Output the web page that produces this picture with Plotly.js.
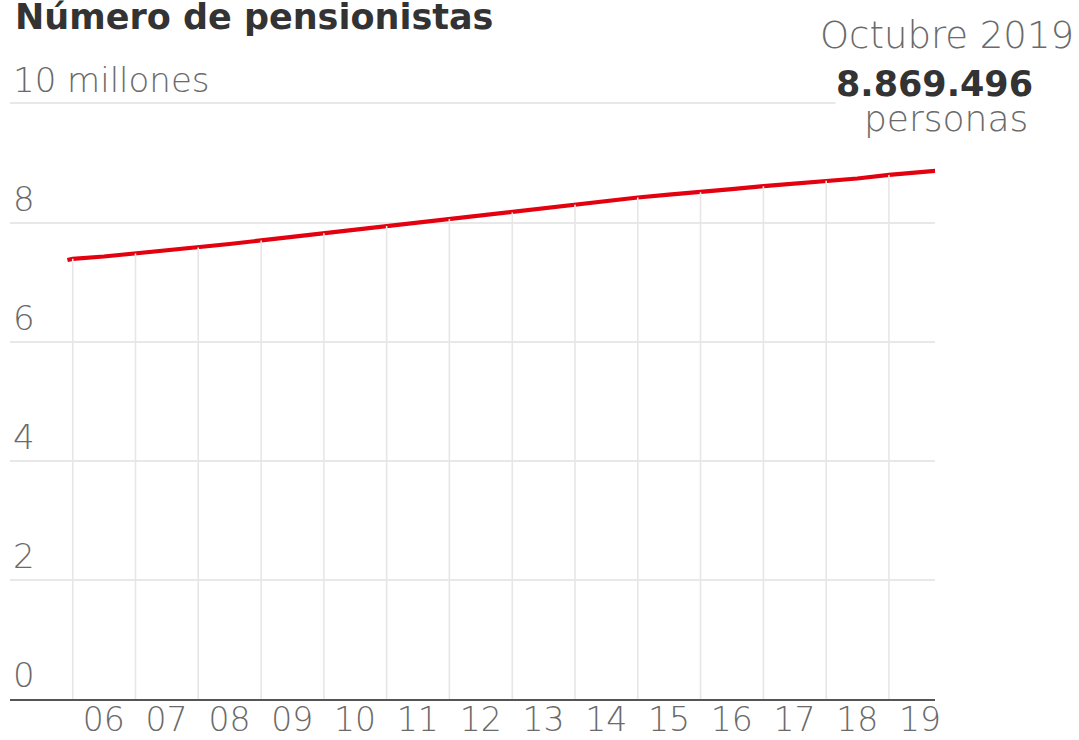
<!DOCTYPE html>
<html>
<head>
<meta charset="utf-8">
<script src="https://cdn.plot.ly/plotly-3.0.1.min.js"></script>
<style>html,body{margin:0;padding:0;background:#fff}#chart{width:1079px;height:740px}</style>
</head>
<body>
<div id="chart"></div>
<script>
// Número de pensionistas (millones)
const dates = ['2005-12-01','2006-01-01','2006-07-01','2007-01-01','2007-07-01','2008-01-01','2008-07-01',
  '2009-01-01','2009-07-01','2010-01-01','2010-07-01','2011-01-01','2011-07-01','2012-01-01','2012-07-01',
  '2013-01-01','2013-07-01','2014-01-01','2014-07-01','2015-01-01','2015-07-01','2016-01-01','2016-07-01',
  '2017-01-01','2017-07-01','2018-01-01','2018-07-01','2019-01-01','2019-07-01','2019-10-01'];
const pensionistas = [7.37,7.39,7.43,7.48,7.53,7.58,7.64,
  7.70,7.76,7.82,7.88,7.94,8.00,8.06,8.11,
  8.17,8.24,8.30,8.36,8.42,8.47,8.51,8.56,
  8.61,8.65,8.70,8.74,8.80,8.84,8.869496];
const yearTicks = ['2006-07-01','2007-07-01','2008-07-01','2009-07-01','2010-07-01','2011-07-01','2012-07-01',
  '2013-07-01','2014-07-01','2015-07-01','2016-07-01','2017-07-01','2018-07-01','2019-07-01'];
const yearLabels = ['06','07','08','09','10','11','12','13','14','15','16','17','18','19'];
const yTicks = [0,2,4,6,8,10];
const yLabels = ['0','2','4','6','8','10 millones'];
const lastDate = 'Octubre 2019';
const lastValue = '8.869.496';
const lastUnit = 'personas';

// vertical drop lines at each January, from the axis up to the series
const dropX = [], dropY = [];
dates.forEach((d, i) => {
  if (d.slice(5, 7) === '01') { dropX.push(d, d, null); dropY.push(0, pensionistas[i], null); }
});

const FONT = '"DejaVu Sans", Verdana, sans-serif';
const GREY = '#6a6a6a';
const YMAX = 11.3;
const XRANGE = ['2005-01-01', '2019-09-26'];
const B = 41, UNIT = 59.6;
const T = Math.round(740 - B - YMAX * UNIT);
const PH = 740 - T - B;                      // plot height in px
const py = px => (740 - B - px) / PH;        // pixel row -> paper y
const px2 = px => (px - 10) / 925;           // pixel col -> paper x

const traces = [
  // drop lines live on the overlay pair (x2, y3) which carries the year labels
  {x: dropX, y: dropY, xaxis: 'x2', yaxis: 'y3', mode: 'lines', line: {color: '#e6e6e6', width: 1.6}, hoverinfo: 'skip', showlegend: false},
  {x: dates, y: pensionistas, mode: 'lines', line: {color: '#e3000f', width: 4.2}, showlegend: false},
  {x: [dates[dates.length - 1]], y: [pensionistas[pensionistas.length - 1]], mode: 'markers',
   marker: {color: '#ffffff', size: 10, line: {color: '#e3000f', width: 1.6}}, cliponaxis: false, showlegend: false}
];

const layout = {
  width: 1079, height: 740,
  paper_bgcolor: '#ffffff', plot_bgcolor: '#ffffff',
  margin: {l: 10, r: 144, t: T, b: B},
  font: {family: FONT, color: GREY},
  title: {text: 'Número de pensionistas', x: 15/1079, xanchor: 'left', xref: 'container',
          y: 0.978, yanchor: 'middle', yref: 'container',
          font: {family: FONT, size: 35, color: '#333333', weight: 700}},
  xaxis: {type: 'date', range: XRANGE, showgrid: false, zeroline: false, showticklabels: false,
          showline: true, linecolor: '#555555', linewidth: 2.2, ticks: ''},
  yaxis: {range: [0, YMAX], tickvals: yTicks, ticktext: yLabels, showgrid: true, gridcolor: '#e8e8e8', gridwidth: 2,
          zeroline: false, showline: false, ticks: '', ticklabelposition: 'inside top',
          tickfont: {family: FONT, size: 34, color: GREY, weight: 300}},
  xaxis2: {type: 'date', range: XRANGE, overlaying: 'x', anchor: 'y3', side: 'bottom',
          tickvals: yearTicks, ticktext: yearLabels, showgrid: false, zeroline: false, showline: false,
          ticks: '', ticklabelstandoff: -2,
          tickfont: {family: FONT, size: 33, color: GREY, weight: 300}},
  yaxis3: {range: [0, YMAX], overlaying: 'y', anchor: 'x2', showgrid: false, zeroline: false,
          showline: false, showticklabels: false, ticks: ''},
  annotations: [
    {text: lastDate, xref: 'paper', yref: 'paper', x: px2(947), y: py(36), xanchor: 'center', yanchor: 'middle',
     showarrow: false, font: {family: FONT, size: 37, color: GREY, weight: 300}},
    {text: '<b>' + lastValue + '</b>', xref: 'paper', yref: 'paper', x: px2(835), y: py(84), xanchor: 'left', yanchor: 'middle',
     showarrow: false, bgcolor: '#ffffff', borderpad: 0, font: {family: FONT, size: 35, color: '#333333'}},
    {text: lastUnit, xref: 'paper', yref: 'paper', x: px2(946), y: py(119), xanchor: 'center', yanchor: 'middle',
     showarrow: false, font: {family: FONT, size: 36, color: GREY, weight: 300}}
  ]
};
Plotly.newPlot('chart', traces, layout, {displayModeBar: false, staticPlot: true});
</script>
</body>
</html>
